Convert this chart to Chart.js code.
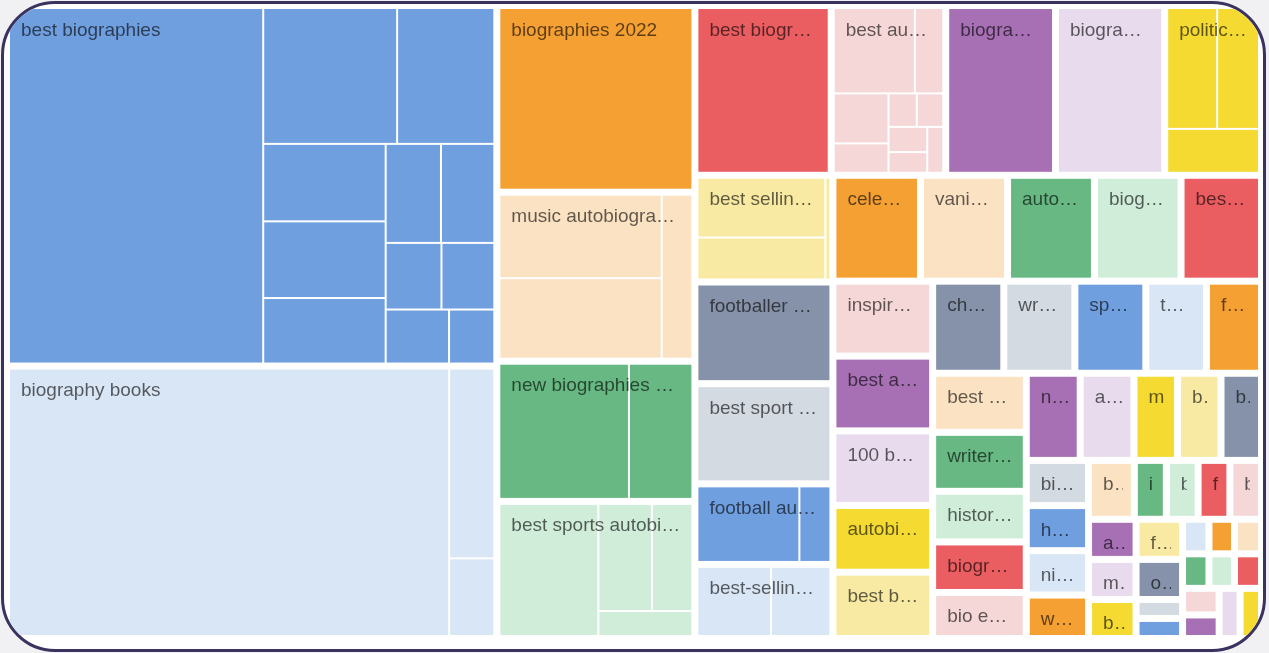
<!DOCTYPE html>
<html>
<head>
<meta charset="utf-8">
<title>Biography keywords treemap</title>
<script src="https://cdn.jsdelivr.net/npm/chart.js@4.4.1/dist/chart.umd.min.js"></script>
<style>
  html, body { margin: 0; padding: 0; background: #f1f1f4; }
  #frame {
    position: absolute; left: 1px; top: 1px;
    width: 1265px; height: 651px; box-sizing: border-box;
    border: 3px solid #3a3360; border-radius: 54px;
    background: #fff; overflow: hidden;
  }
  #chart { position: absolute; left: -4px; top: -4px; }
</style>
</head>
<body>
<div id="frame"><canvas id="chart" width="1269" height="653"></canvas></div>
<script>
// keywords (one cell group each) and the volumes of their sub-keywords
const keywords = [
  'best biographies', 'biography books', 'biographies 2022', 'music autobiographies',
  'new biographies 2022', 'best sports autobiographies', 'best biographies of all time',
  'best audio biographies', 'biographies of famous people', 'biographies to read',
  'political biographies', 'best selling biographies', 'footballer autobiographies',
  'best sport autobiographies', 'football autobiographies', 'best-selling biographies',
  'celebrity autobiographies', 'vanity fair biographies', 'autobiography books',
  'biography of a person', 'best memoirs', 'inspirational biographies', 'best autobiographies',
  '100 best biographies', 'autobiographies 2022', 'best biography books', 'cheap biographies',
  'wrestler biographies', 'sports biographies', 'top biographies', 'famous biographies',
  'best memoir books', 'writers biographies', 'historical biographies', 'biographies uk',
  'bio examples', 'new autobiographies', 'autobiography examples', 'memoirs', 'biography',
  'books about people', 'biographies of women', 'how to write a biography', 'nice biographies',
  'war biographies', 'biography uk', 'interesting biographies', 'biopics', 'famous lives',
  'biographers', 'autobiography', 'memoir', 'biography ideas', 'famous people', 'obituaries',
  'life stories', 'hero biographies', 'leaders biographies', 'royal biographies',
  'actor biographies', 'artist biographies', 'science biographies', 'rock memoirs',
  'film biographies', 'poet biographies', 'queen biography', 'kids biographies'
];

const volumes = [
  [924, 186, 135, 97, 96, 82, 56, 54, 38, 36, 35, 25],
  [1209, 88, 36],
  [369],
  [143, 138, 53],
  [186, 91],
  [139, 61, 46, 25],
  [231],
  [74.5, 26, 29.5, 17.3, 10.2, 9.5, 10.5, 8.6, 7.9],
  [186],
  [185],
  [65.5, 54.8, 43.7],
  [83, 58.4, 5.6],
  [140],
  [138],
  [85.1, 25.9],
  [56.4, 45.6],
  [92.5], [92], [91.8], [91.5], [85],
  [74.6], [74.4], [74.2], [66.4], [66],
  [65.4], [65.3], [65.2], [55.7], [50.6],
  [55.2], [55.1], [47.3], [47.2], [43],
  [46.9], [46.7], [37.9], [37.8], [35.2],
  [28.1], [28], [27.6], [27],
  [26.9], [18.8], [18.7], [18.65], [18.6],
  [19], [19], [18.5],
  [18.6], [18.6], [8.8], [9.3],
  [9.1], [8.8], [9.3],
  [9.1], [8.8], [9.3],
  [9.7], [8.6],
  [10.5], [10.7]
];

const palette = [
  '#709fe0', '#d9e6f6', '#f5a033', '#fbe2c3', '#67b882', '#d0edda', '#ea5d61',
  '#f6d7d7', '#a770b4', '#e8dbee', '#f4da31', '#f9eaa3', '#8592a9', '#d4dae2'
];

const AREA_W = 1255;
const AREA_H = 633;
const SQUARE_RATIO = 1.55;
const GROUP_GAP = 5;
const CELL_GAP = 2;

function sum(arr) { return arr.reduce((a, b) => a + b, 0); }

function worst(areas, side) {
  const s = sum(areas);
  const f = side * side * SQUARE_RATIO;
  return Math.max(f * Math.max(...areas) / (s * s), (s * s) / (f * Math.min(...areas)));
}

function placeRow(row, areas, side, r, out, flush) {
  const horiz = side === r.w;
  const rowArea = sum(row.map(k => areas[k]));
  let thick = side ? rowArea / side : 0;
  const room = horiz ? r.h : r.w;
  if (flush || thick > room) thick = room;
  let pos = horiz ? r.x : r.y;
  const end = horiz ? r.x + r.w : r.y + r.h;
  row.forEach((k, j) => {
    const step = areas[k] / thick;
    const len = (j === row.length - 1 || end - pos < step) ? end - pos : step;
    out[k] = horiz ? { x: pos, y: r.y, w: len, h: thick } : { x: r.x, y: pos, w: thick, h: len };
    pos += len;
  });
  if (horiz) { r.y += thick; r.h -= thick; } else { r.x += thick; r.w -= thick; }
}

function squarify(values, rect) {
  const total = sum(values);
  const areas = values.map(v => v / total * rect.w * rect.h);
  const r = { x: rect.x, y: rect.y, w: rect.w, h: rect.h };
  const out = [];
  let row = [];
  let best = Infinity;
  let side = Math.min(r.w, r.h);
  let i = 0;
  while (i < areas.length) {
    row.push(i);
    const score = worst(row.map(k => areas[k]), side);
    if (score <= best) {
      best = score;
      i++;
    } else {
      row.pop();
      placeRow(row, areas, side, r, out, false);
      side = Math.min(r.w, r.h);
      row = [];
      best = Infinity;
    }
  }
  if (row.length) placeRow(row, areas, side, r, out, true);
  return out;
}

function fitLabel(ctx, text, maxW) {
  if (ctx.measureText(text).width <= maxW) return text;
  for (let n = text.length - 1; n >= 1; n--) {
    const t = text.slice(0, n) + '\u2026';
    if (ctx.measureText(t).width <= maxW) return t;
  }
  return text[0] + '\u2026';
}

const treemapPlugin = {
  id: 'treemap',
  afterDatasetsDraw(chart) {
    const ctx = chart.ctx;
    const xs = chart.scales.x;
    const ys = chart.scales.y;
    const kx = AREA_W / (xs.right - xs.left);
    const ky = AREA_H / (ys.bottom - ys.top);
    const totals = volumes.map(sum);
    const groups = squarify(totals, { x: 0, y: 0, w: AREA_W, h: AREA_H });

    ctx.save();
    ctx.font = '19px "Liberation Sans", Arial, sans-serif';
    groups.forEach((g, i) => {
      const inner = {
        x: g.x + GROUP_GAP / 2 * kx, y: g.y + GROUP_GAP / 2 * ky,
        w: g.w - GROUP_GAP * kx, h: g.h - GROUP_GAP * ky
      };
      const cells = squarify(volumes[i], inner);
      ctx.fillStyle = palette[i % palette.length];
      cells.forEach(c => {
        const l = xs.getPixelForValue(c.x) + CELL_GAP / 2;
        const r = xs.getPixelForValue(c.x + c.w) - CELL_GAP / 2;
        const t = ys.getPixelForValue(c.y) + CELL_GAP / 2;
        const b = ys.getPixelForValue(c.y + c.h) - CELL_GAP / 2;
        if (r > l && b > t) ctx.fillRect(l, t, r - l, b - t);
      });

      // group label in the top left corner
      const gl = xs.getPixelForValue(inner.x) + CELL_GAP / 2;
      const gr = xs.getPixelForValue(inner.x + inner.w) - CELL_GAP / 2;
      const gt = ys.getPixelForValue(inner.y) + CELL_GAP / 2;
      const gb = ys.getPixelForValue(inner.y + inner.h) - CELL_GAP / 2;
      if (gb - gt < 28 || gr - gl < 12) return;
      const label = fitLabel(ctx, keywords[i], gr - gl - 21);
      ctx.save();
      ctx.beginPath();
      ctx.rect(gl, gt, gr - gl - 8, gb - gt);
      ctx.clip();
      ctx.fillStyle = 'rgba(0, 0, 0, 0.62)';
      ctx.textBaseline = 'alphabetic';
      ctx.fillText(label, gl + 11, gt + 26.5);
      ctx.restore();
    });
    ctx.restore();
  }
};

const chart = new Chart(document.getElementById('chart'), {
  type: 'scatter',
  data: { datasets: [{ data: [] }] },
  options: {
    responsive: false,
    animation: false,
    events: [],
    layout: { padding: { left: 6.5, top: 5.5, right: 7.5, bottom: 14.5 } },
    scales: {
      x: { type: 'linear', min: 0, max: AREA_W, display: false },
      y: { type: 'linear', min: 0, max: AREA_H, reverse: true, display: false }
    },
    plugins: { legend: { display: false }, tooltip: { enabled: false } }
  },
  plugins: [treemapPlugin]
});
</script>
</body>
</html>
